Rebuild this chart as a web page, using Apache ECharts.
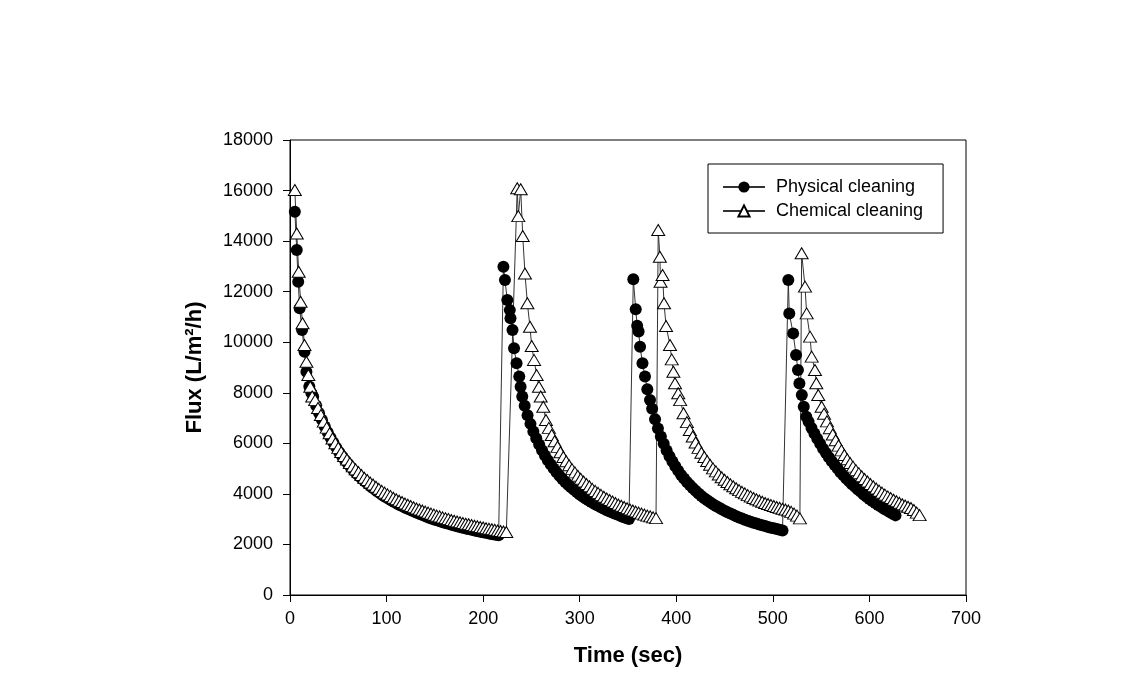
<!DOCTYPE html>
<html>
<head>
<meta charset="utf-8">
<script src="https://cdn.jsdelivr.net/npm/echarts@6/dist/echarts.min.js"></script>
<style>
html,body{margin:0;padding:0;background:#fff;}
#chart{width:1136px;height:686px;}
</style>
</head>
<body>
<div id="chart"></div>
<script>
// ---- Data (time in sec, flux in L/m2/h) ----
const xTicks = [0, 100, 200, 300, 400, 500, 600, 700];
const yTicks = [0, 2000, 4000, 6000, 8000, 10000, 12000, 14000, 16000, 18000];

const physical1 = [[5,15160],[7,13650],[8.5,12390],[10,11340],[12.5,10480],[15,9620],[17,8830],[20,8250],[22,8000],[24,7840],[27,7500],[30,7200],[33,6930],[36,6670],[39,6440],[42,6220],[45,6020],[48,5830],[51,5650],[54,5490],[57,5330],[60,5190],[63,5050],[66,4920],[69,4800],[72,4690],[75,4580],[78,4480],[81,4380],[84,4280],[87,4200],[90,4110],[93,4030],[96,3950],[99,3880],[102,3810],[105,3740],[108,3680],[111,3610],[114,3550],[117,3500],[120,3440],[123,3390],[126,3340],[129,3290],[132,3240],[135,3190],[138,3150],[141,3110],[144,3060],[147,3020],[150,2980],[153,2950],[156,2910],[159,2870],[162,2840],[165,2810],[168,2770],[171,2740],[174,2710],[177,2680],[180,2650],[183,2620],[186,2600],[189,2570],[192,2540],[195,2520],[198,2490],[201,2470],[204,2450],[207,2420],[210,2400],[213,2380],[216,2360]];
const physical2 = [[221,12990],[222.6,12460],[225,11670],[227.6,11270],[228.3,10950],[230.4,10480],[232,9760],[234.6,9170],[237.4,8640],[238.8,8240],[240.5,7850],[243,7490],[246,7110],[249,6770],[252,6470],[255,6200],[258,5950],[261,5730],[264,5520],[267,5330],[270,5160],[273,5000],[276,4860],[279,4720],[282,4590],[285,4470],[288,4360],[291,4260],[294,4160],[297,4070],[300,3980],[303,3900],[306,3820],[309,3750],[312,3680],[315,3610],[318,3550],[321,3490],[324,3430],[327,3370],[330,3320],[333,3270],[336,3220],[339,3180],[342,3130],[345,3090],[348,3050],[351,3010]];
const physical3 = [[355.5,12490],[358,11300],[359.5,10650],[361,10420],[362.5,9820],[365,9170],[367.6,8640],[370,8140],[372.8,7710],[375,7370],[378,6950],[381,6590],[384,6270],[387,5980],[390,5720],[393,5490],[396,5280],[399,5090],[402,4920],[405,4750],[408,4610],[411,4470],[414,4350],[417,4230],[420,4120],[423,4020],[426,3920],[429,3830],[432,3750],[435,3670],[438,3590],[441,3520],[444,3460],[447,3390],[450,3330],[453,3270],[456,3220],[459,3170],[462,3120],[465,3070],[468,3030],[471,2980],[474,2940],[477,2900],[480,2860],[483,2830],[486,2790],[489,2760],[492,2730],[495,2690],[498,2660],[501,2640],[504,2610],[507,2580],[510,2550]];
const physical4 = [[516,12460],[517,11140],[521,10350],[524,9490],[526,8900],[527.5,8370],[530,7910],[532,7450],[534.6,7050],[537,6850],[540,6610],[543,6390],[546,6180],[549,5980],[552,5790],[555,5620],[558,5450],[561,5290],[564,5140],[567,5000],[570,4860],[573,4740],[576,4610],[579,4500],[582,4380],[585,4280],[588,4170],[591,4080],[594,3980],[597,3890],[600,3800],[603,3720],[606,3640],[609,3560],[612,3490],[615,3410],[618,3350],[621,3280],[624,3210],[627,3150]];

const chemical1 = [[5,16020],[7,14300],[9,12790],[11,11600],[13,10750],[15,9890],[17,9230],[19,8700],[21,8240],[23,7850],[26,7710],[29,7400],[32,7120],[35,6860],[38,6620],[41,6400],[44,6190],[47,6000],[50,5820],[53,5660],[56,5500],[59,5360],[62,5220],[65,5090],[68,4970],[71,4860],[74,4750],[77,4640],[80,4550],[83,4450],[86,4370],[89,4280],[92,4200],[95,4120],[98,4050],[101,3980],[104,3920],[107,3850],[110,3790],[113,3730],[116,3680],[119,3620],[122,3570],[125,3520],[128,3470],[131,3420],[134,3380],[137,3340],[140,3300],[143,3260],[146,3220],[149,3180],[152,3140],[155,3110],[158,3070],[161,3040],[164,3010],[167,2970],[170,2940],[173,2910],[176,2880],[179,2850],[182,2820],[185,2800],[188,2770],[191,2740],[194,2720],[197,2690],[200,2670],[203,2640],[206,2620],[209,2600],[212,2580],[215,2550],[218,2530],[221,2510],[224,2490]];
const chemical2 = [[235.3,16090],[236.4,14990],[238.9,16050],[241,14200],[243.3,12720],[245.8,11540],[248.5,10610],[250.3,9850],[252.7,9300],[255.4,8700],[257.8,8240],[259.6,7850],[262.3,7450],[265,6920],[268,6610],[271,6330],[274,6080],[277,5860],[280,5650],[283,5460],[286,5290],[289,5130],[292,4980],[295,4850],[298,4720],[301,4600],[304,4490],[307,4390],[310,4300],[313,4200],[316,4120],[319,4040],[322,3960],[325,3890],[328,3820],[331,3760],[334,3700],[337,3640],[340,3580],[343,3530],[346,3480],[349,3430],[352,3380],[355,3340],[358,3300],[361,3260],[364,3220],[367,3180],[370,3140],[373,3110],[376,3070],[379,3040]];
const chemical3 = [[381.3,14440],[383,13380],[383.7,12390],[385.8,12660],[387.3,11540],[389.4,10640],[393.5,9890],[395.3,9320],[397,8830],[398.7,8380],[402,7980],[404,7710],[407.5,7190],[411,6840],[414,6530],[417,6270],[420,6030],[423,5820],[426,5630],[429,5460],[432,5300],[435,5150],[438,5010],[441,4890],[444,4770],[447,4660],[450,4560],[453,4470],[456,4380],[459,4300],[462,4220],[465,4150],[468,4080],[471,4020],[474,3950],[477,3900],[480,3840],[483,3790],[486,3740],[489,3690],[492,3640],[495,3600],[498,3560],[501,3520],[504,3480],[507,3450],[510,3410],[513,3380],[516,3340],[519,3290],[522,3220],[525,3140],[528,3030]];
const chemical4 = [[529.8,13520],[533.3,12200],[535,11140],[538.5,10220],[540.2,9430],[543.6,8900],[545,8380],[547,7910],[550.5,7450],[553,7170],[556,6870],[559,6600],[562,6350],[565,6120],[568,5910],[571,5720],[574,5540],[577,5370],[580,5220],[583,5080],[586,4940],[589,4820],[592,4700],[595,4590],[598,4490],[601,4390],[604,4300],[607,4210],[610,4130],[613,4050],[616,3970],[619,3900],[622,3840],[625,3770],[628,3710],[631,3650],[634,3590],[637,3540],[640,3490],[643,3440],[646,3360],[649,3260],[652,3160]];

const physicalData = physical1.concat(physical2, physical3, physical4);
const chemicalData = chemical1.concat(chemical2, chemical3, chemical4);

const FONT = '"Liberation Sans", Arial, sans-serif';

const chart = echarts.init(document.getElementById('chart'), null, {renderer: 'canvas'});
chart.setOption({
  animation: false,
  backgroundColor: '#fff',
  grid: {left: 290, right: 170, top: 140, bottom: 91, show: true, borderColor: '#000', borderWidth: 1, backgroundColor: 'transparent'},
  legend: {
    orient: 'vertical', left: 708, top: 164,
    borderColor: '#000', borderWidth: 1, borderRadius: 0,
    padding: [14, 20, 13, 14],
    itemWidth: 42, itemHeight: 14, itemGap: 6,
    textStyle: {fontSize: 18, color: '#000', fontFamily: FONT, padding: [0, 0, 0, 6]},
    data: ['Physical cleaning', 'Chemical cleaning']
  },
  xAxis: {
    type: 'value', min: xTicks[0], max: xTicks[xTicks.length - 1], interval: 100,
    name: 'Time (sec)', nameLocation: 'middle', nameGap: 50,
    nameTextStyle: {fontSize: 22, fontWeight: 'bold', color: '#000', fontFamily: FONT},
    axisLine: {show: true, onZero: false, lineStyle: {color: '#000', width: 1}},
    axisTick: {show: true, length: 7, lineStyle: {color: '#000', width: 1}},
    axisLabel: {fontSize: 18, color: '#000', margin: 15, fontFamily: FONT, formatter: function (v) { return String(v); }},
    splitLine: {show: false}
  },
  yAxis: {
    type: 'value', min: yTicks[0], max: yTicks[yTicks.length - 1], interval: 2000,
    name: 'Flux (L/m²/h)', nameLocation: 'middle', nameGap: 84,
    nameTextStyle: {fontSize: 22, fontWeight: 'bold', color: '#000', fontFamily: FONT},
    axisLine: {show: true, onZero: false, lineStyle: {color: '#000', width: 1}},
    axisTick: {show: true, length: 7, lineStyle: {color: '#000', width: 1}},
    axisLabel: {fontSize: 18, color: '#000', margin: 17, fontFamily: FONT, formatter: function (v) { return String(v); }},
    splitLine: {show: false}
  },
  series: [
    {
      name: 'Physical cleaning', type: 'line', data: physicalData,
      symbol: 'circle', symbolSize: 12, showSymbol: true,
      itemStyle: {color: '#000', borderColor: '#000', borderWidth: 0},
      lineStyle: {color: '#333', width: 1},
      emphasis: {disabled: true}
    },
    {
      name: 'Chemical cleaning', type: 'line', data: chemicalData,
      symbol: 'triangle', symbolSize: [13, 11], showSymbol: true,
      itemStyle: {color: '#fff', borderColor: '#000', borderWidth: 1},
      lineStyle: {color: '#333', width: 1},
      emphasis: {disabled: true}
    }
  ]
});
</script>
</body>
</html>
